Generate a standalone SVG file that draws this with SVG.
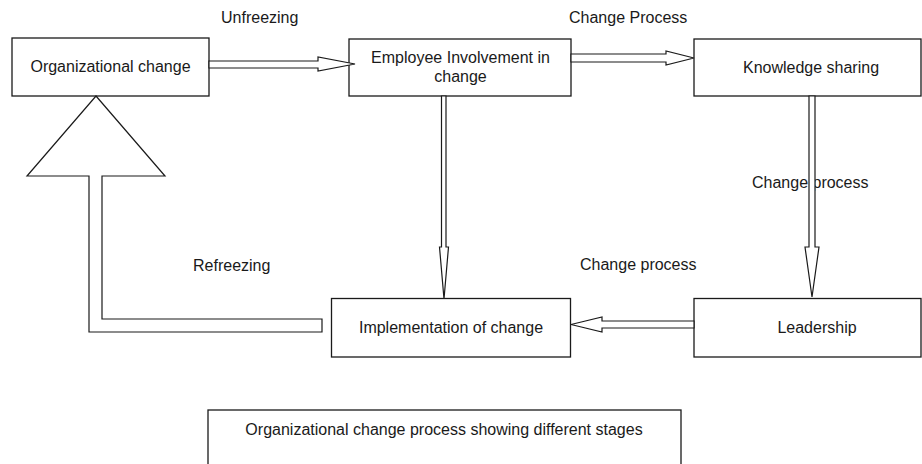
<svg xmlns="http://www.w3.org/2000/svg" width="922" height="464" viewBox="0 0 922 464">
<style>
.box{fill:#fff;stroke:#1a1a1a;stroke-width:1.3}
.arr{fill:#fff;stroke:#1a1a1a;stroke-width:1.2;stroke-linejoin:miter}
text{font-family:"Liberation Sans",Arial,sans-serif;font-size:16px;fill:#1a1a1a}
.c{text-anchor:middle}
</style>
<rect width="922" height="464" fill="#fff"/>
<g id="n-org">
<rect class="box" x="12" y="38" width="197" height="58"/>
<text class="c" x="110.5" y="72">Organizational change</text>
</g>
<g id="n-emp">
<rect class="box" x="349" y="39" width="222" height="57"/>
<text class="c" x="460.5" y="63">Employee Involvement in</text>
<text class="c" x="460.5" y="82">change</text>
</g>
<g id="n-know">
<rect class="box" x="694" y="39" width="227" height="57"/>
<text class="c" x="811" y="73">Knowledge sharing</text>
</g>
<g id="n-impl">
<rect class="box" x="331.5" y="298.5" width="239" height="58.5"/>
<text class="c" x="451" y="333">Implementation of change</text>
</g>
<g id="n-lead">
<rect class="box" x="694" y="298.5" width="227" height="58.5"/>
<text class="c" x="817" y="333">Leadership</text>
</g>
<g id="caption">
<rect class="box" x="208" y="410" width="473" height="70"/>
<text class="c" x="444" y="435">Organizational change process showing different stages</text>
</g>
<g id="connectors">
<text x="221" y="23">Unfreezing</text>
<text x="569" y="23">Change Process</text>
<text x="752" y="188">Change process</text>
<text x="193" y="271">Refreezing</text>
<text x="580" y="270">Change process</text>
<polygon class="arr" points="209,61 318,61 318,57 355,64 318,71 318,68 209,68"/>
<polygon class="arr" points="571,54 666,54 666,51 694,58 666,65 666,62 571,62"/>
<polygon class="arr" points="441.5,96 446,96 446,247 448.5,247 444,299 439.5,247 441.5,247"/>
<polygon class="arr" points="809,96 815,96 815,247 819,247 812,297 805,247 809,247"/>
<polygon class="arr" points="694,321 602,321 602,317 571,324.5 602,332 602,328 694,328"/>
<polygon class="arr" points="96,96 165,176 102,176 102,319 322,319 322,332 89,332 89,176 27,176"/>
</g>
</svg>
